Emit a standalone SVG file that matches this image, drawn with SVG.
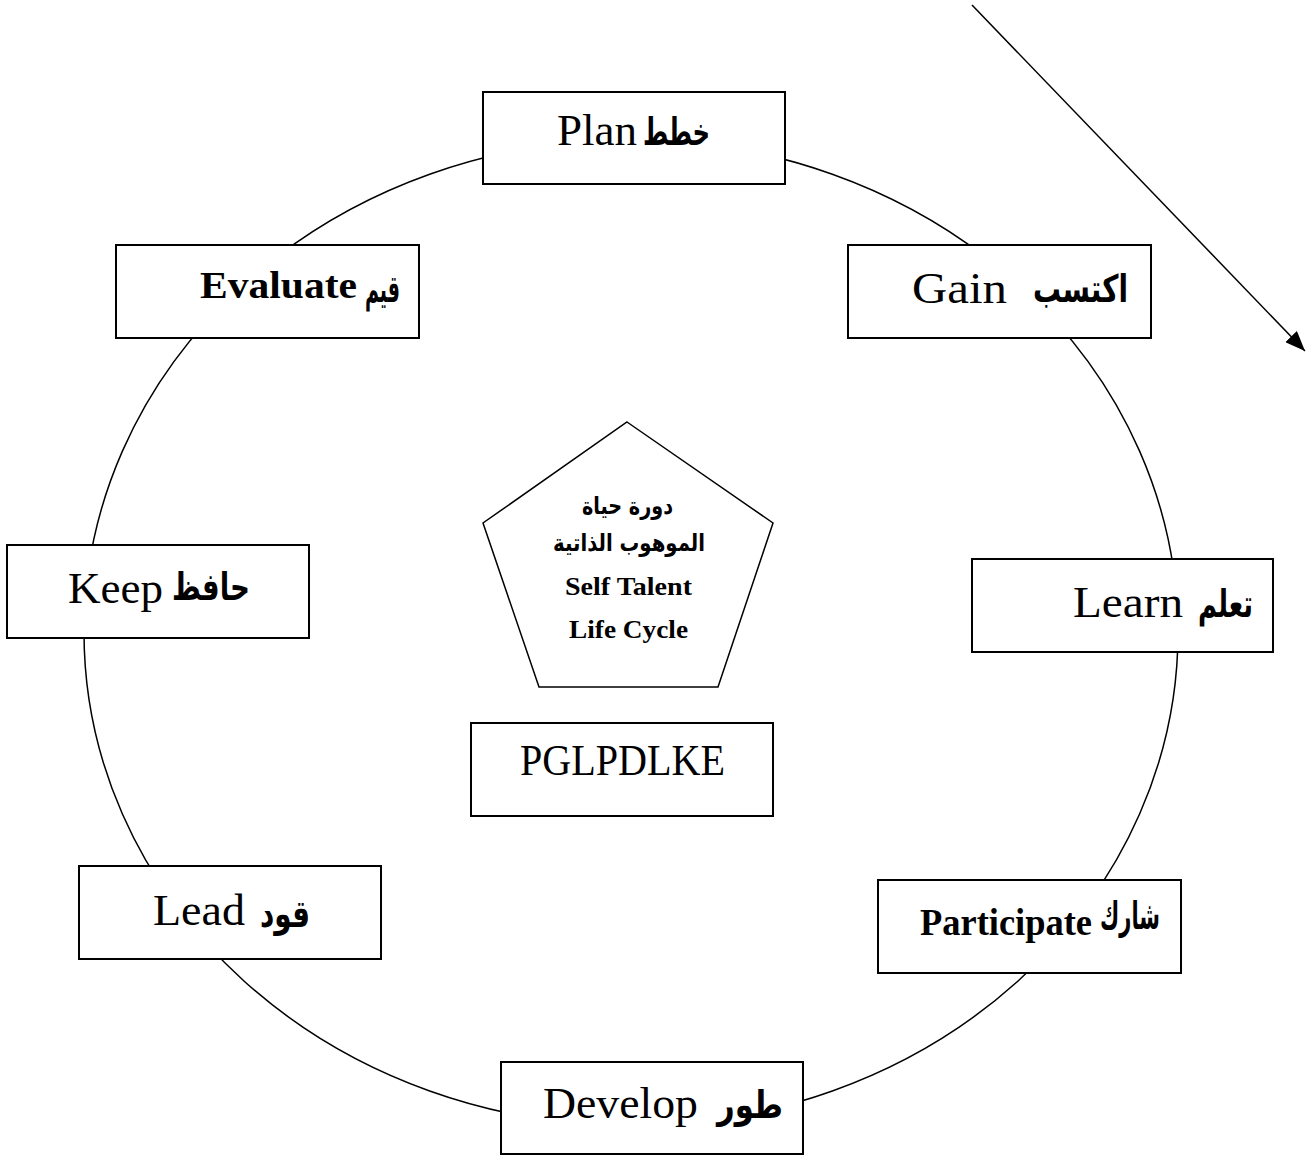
<svg xmlns="http://www.w3.org/2000/svg" width="1312" height="1155" viewBox="0 0 1312 1155">
<style>
.box{fill:#fff;stroke:#000;stroke-width:2}
.en{font-family:"Liberation Serif","Times New Roman",serif;font-size:45px;fill:#000;text-anchor:middle}
.enb{font-family:"Liberation Serif","Times New Roman",serif;font-size:38px;font-weight:bold;fill:#000;text-anchor:middle}
.ar{font-family:"DejaVu Sans",sans-serif;font-size:38px;font-weight:bold;fill:#000;text-anchor:middle}
.ars{font-family:"DejaVu Sans",sans-serif;font-size:24px;font-weight:bold;fill:#000;text-anchor:middle}
.ens{font-family:"Liberation Serif","Times New Roman",serif;font-size:26px;font-weight:bold;fill:#000;text-anchor:middle}
.line{fill:none;stroke:#000;stroke-width:1.5}
</style>
<defs>
<marker id="arr" viewBox="0 0 20 16" refX="20" refY="8" markerWidth="20" markerHeight="16" markerUnits="userSpaceOnUse" orient="auto">
<path d="M0,0 L20,8 L0,16 z" fill="#000"/>
</marker>
</defs>
<rect width="1312" height="1155" fill="#fff"/>
<g id="connectors">
<ellipse class="line" cx="631" cy="632.6" rx="547" ry="493"/>
<line class="line" x1="972" y1="5" x2="1305" y2="351" marker-end="url(#arr)"/>
</g>
<g id="plan">
<rect class="box" x="483" y="92" width="302" height="92"/>
<text class="en" x="597" y="145" textLength="80" lengthAdjust="spacingAndGlyphs">Plan</text>
<text class="ar" x="676.5" y="145" textLength="67" lengthAdjust="spacingAndGlyphs">خطط</text>
</g>
<g id="gain">
<rect class="box" x="848" y="245" width="303" height="93"/>
<text class="en" x="959.5" y="303" textLength="95" lengthAdjust="spacingAndGlyphs">Gain</text>
<text class="ar" x="1080.5" y="302" textLength="95" lengthAdjust="spacingAndGlyphs">اكتسب</text>
</g>
<g id="evaluate">
<rect class="box" x="116" y="245" width="303" height="93"/>
<text class="enb" x="278.5" y="298" textLength="157" lengthAdjust="spacingAndGlyphs">Evaluate</text>
<text class="ar" x="382.5" y="302" font-size="34" textLength="35" lengthAdjust="spacingAndGlyphs">قيم</text>
</g>
<g id="learn">
<rect class="box" x="972" y="559" width="301" height="93"/>
<text class="en" x="1128" y="617" textLength="110" lengthAdjust="spacingAndGlyphs">Learn</text>
<text class="ar" x="1225.5" y="617" textLength="55" lengthAdjust="spacingAndGlyphs">تعلم</text>
</g>
<g id="keep">
<rect class="box" x="7" y="545" width="302" height="93"/>
<text class="en" x="115.5" y="603" textLength="95" lengthAdjust="spacingAndGlyphs">Keep</text>
<text class="ar" x="211" y="600" textLength="78" lengthAdjust="spacingAndGlyphs">حافظ</text>
</g>
<g id="participate">
<rect class="box" x="878" y="880" width="303" height="93"/>
<text class="enb" x="1006" y="935" textLength="172" lengthAdjust="spacingAndGlyphs">Participate</text>
<text class="ar" x="1130" y="929" font-size="34" textLength="60" lengthAdjust="spacingAndGlyphs">شارك</text>
</g>
<g id="lead">
<rect class="box" x="79" y="866" width="302" height="93"/>
<text class="en" x="199" y="925" textLength="92" lengthAdjust="spacingAndGlyphs">Lead</text>
<text class="ar" x="285" y="927" textLength="50" lengthAdjust="spacingAndGlyphs">قود</text>
</g>
<g id="develop">
<rect class="box" x="501" y="1062" width="302" height="92"/>
<text class="en" x="620.5" y="1118" textLength="155" lengthAdjust="spacingAndGlyphs">Develop</text>
<text class="ar" x="750" y="1118" textLength="66" lengthAdjust="spacingAndGlyphs">طور</text>
</g>
<g id="center">
<polygon class="box" style="stroke-width:1.5" points="627,422 773,523 718,687 539,687 483,523"/>
<text class="ars" x="627.5" y="514" textLength="91" lengthAdjust="spacingAndGlyphs">دورة حياة</text>
<text class="ars" x="629" y="551" textLength="152" lengthAdjust="spacingAndGlyphs">الموهوب الذاتية</text>
<text class="ens" x="628.5" y="595" textLength="127" lengthAdjust="spacingAndGlyphs">Self Talent</text>
<text class="ens" x="628.5" y="638" textLength="119" lengthAdjust="spacingAndGlyphs">Life Cycle</text>
</g>
<g id="acronym">
<rect class="box" x="471" y="723" width="302" height="93"/>
<text class="en" x="622.5" y="775" font-size="41" textLength="205" lengthAdjust="spacingAndGlyphs">PGLPDLKE</text>
</g>
</svg>
